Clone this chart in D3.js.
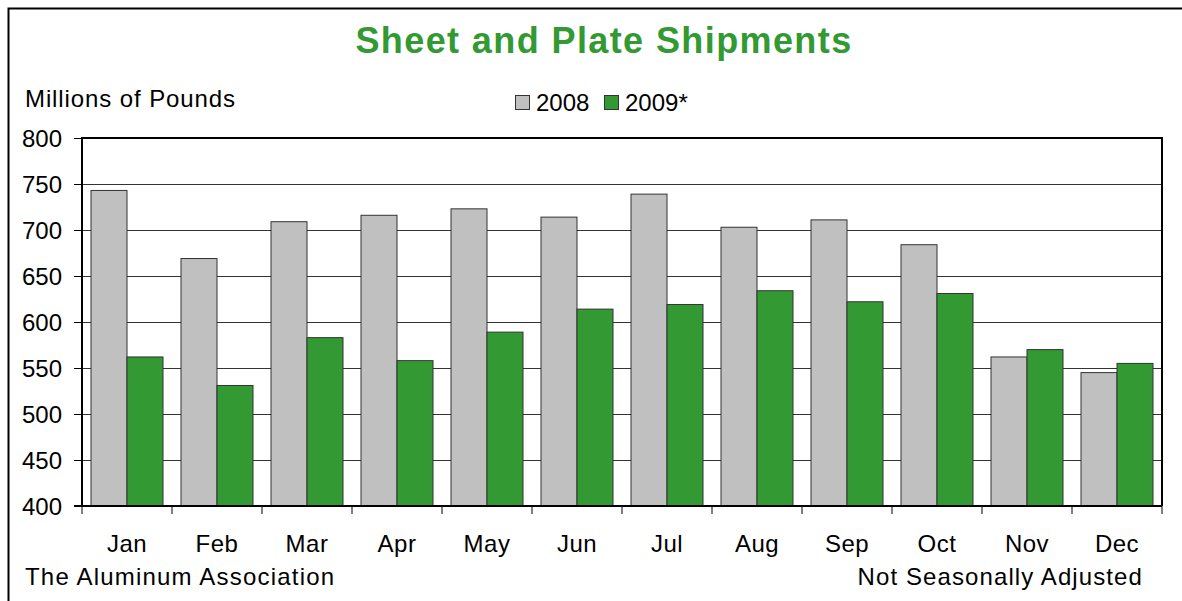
<!DOCTYPE html>
<html>
<head>
<meta charset="utf-8">
<script src="https://cdn.jsdelivr.net/npm/d3@7"></script>
<style>
  body { margin: 0; background: #fff; }
  text { font-family: "Liberation Sans", Arial, sans-serif; }
</style>
</head>
<body>
<svg id="chart" width="1182" height="601"></svg>
<script>
// data
const months = ["Jan", "Feb", "Mar", "Apr", "May", "Jun", "Jul", "Aug", "Sep", "Oct", "Nov", "Dec"];
const series = ["2008", "2009*"];
const values2008 = [743, 669, 709, 716, 723, 714, 739, 703, 711, 684, 562, 545];
const values2009 = [562, 531, 583, 558, 589, 614, 619, 634, 622, 631, 570, 555];
const yTicks = [400, 450, 500, 550, 600, 650, 700, 750, 800];
const colors = ["#c0c0c0", "#339933"];

const svg = d3.select("#chart");

// outer frame (only top and left show)
svg.append("path")
  .attr("d", "M8.5,601 L8.5,8.5 L1182,8.5")
  .attr("fill", "none")
  .attr("stroke", "#000")
  .attr("stroke-width", 2);

const pLeft = 82, pRight = 1162, pTop = 138, pBottom = 506;

const x = d3.scaleBand().domain(months).range([pLeft, pRight]);
const xs = d3.scaleBand().domain(series).range([0, x.bandwidth()]).paddingOuter(0.25);
const y = d3.scaleLinear().domain([400, 800]).range([pBottom, pTop]);

// gridlines
svg.append("g")
  .selectAll("line")
  .data(yTicks.slice(1, -1))
  .enter()
  .append("line")
  .attr("x1", pLeft)
  .attr("x2", pRight)
  .attr("y1", d => y(d) + 0.5)
  .attr("y2", d => y(d) + 0.5)
  .attr("stroke", "#333")
  .attr("stroke-width", 1);

// bars
const groups = svg.append("g")
  .selectAll("g")
  .data(months)
  .enter()
  .append("g")
  .attr("transform", d => `translate(${x(d)},0)`);

groups.selectAll("rect")
  .data((m, i) => [values2008[i], values2009[i]].map((v, j) => ({ key: series[j], v })))
  .enter()
  .append("rect")
  .attr("x", d => xs(d.key))
  .attr("y", d => y(d.v))
  .attr("width", xs.bandwidth())
  .attr("height", d => pBottom - y(d.v))
  .attr("fill", (d, j) => colors[j])
  .attr("stroke", "#333")
  .attr("stroke-width", 1);

// plot border: top, left, right
svg.append("path")
  .attr("d", `M${pLeft},${pBottom} L${pLeft},${pTop} L${pRight},${pTop} L${pRight},${pBottom}`)
  .attr("fill", "none")
  .attr("stroke", "#000")
  .attr("stroke-width", 2);

// y axis
const yAxis = svg.append("g")
  .attr("transform", `translate(${pLeft},0)`)
  .call(d3.axisLeft(y).tickValues(yTicks).tickSize(8).tickPadding(12));
yAxis.select(".domain").remove();
yAxis.selectAll("line").attr("stroke", "#000");
yAxis.selectAll("text")
  .attr("font-size", 24)
  .attr("dy", "0.35em")
  .attr("fill", "#000")
  .style("font-family", "'Liberation Sans', Arial, sans-serif");

// x axis
const xAxis = svg.append("g")
  .attr("transform", `translate(0,${pBottom})`);
xAxis.append("line")
  .attr("x1", pLeft - 8).attr("x2", pRight)
  .attr("y1", 0).attr("y2", 0)
  .attr("stroke", "#000").attr("stroke-width", 2);
xAxis.selectAll(".tick")
  .data(months.concat(["end"]))
  .enter()
  .append("line")
  .attr("x1", (d, i) => i < 12 ? x(d) : pRight)
  .attr("x2", (d, i) => i < 12 ? x(d) : pRight)
  .attr("y1", 0).attr("y2", 8)
  .attr("stroke", "#000");
xAxis.selectAll("text")
  .data(months)
  .enter()
  .append("text")
  .attr("x", d => x(d) + x.bandwidth() / 2)
  .attr("y", 46)
  .attr("text-anchor", "middle")
  .attr("font-size", 24)
  .attr("letter-spacing", 0.5)
  .text(d => d);

// title
svg.append("text")
  .attr("x", 604)
  .attr("y", 53)
  .attr("text-anchor", "middle")
  .attr("font-size", 36)
  .attr("font-weight", "bold")
  .attr("letter-spacing", 1.4)
  .attr("fill", "#339933")
  .text("Sheet and Plate Shipments");

svg.append("text")
  .attr("x", 25).attr("y", 107)
  .attr("font-size", 24)
  .attr("letter-spacing", 0.9)
  .text("Millions of Pounds");

// legend
const legendX = [515, 604];
series.forEach((s, i) => {
  svg.append("rect")
    .attr("x", legendX[i] + 0.5).attr("y", 95.5)
    .attr("width", 14).attr("height", 14)
    .attr("fill", colors[i])
    .attr("stroke", "#333");
  svg.append("text")
    .attr("x", legendX[i] + 21).attr("y", 111)
    .attr("font-size", 24)
    .text(s);
});

// footers
svg.append("text")
  .attr("x", 25).attr("y", 585)
  .attr("font-size", 24)
  .attr("letter-spacing", 1.2)
  .text("The Aluminum Association");
svg.append("text")
  .attr("x", 1143).attr("y", 585)
  .attr("text-anchor", "end")
  .attr("font-size", 24)
  .attr("letter-spacing", 1.1)
  .text("Not Seasonally Adjusted");
</script>
</body>
</html>
